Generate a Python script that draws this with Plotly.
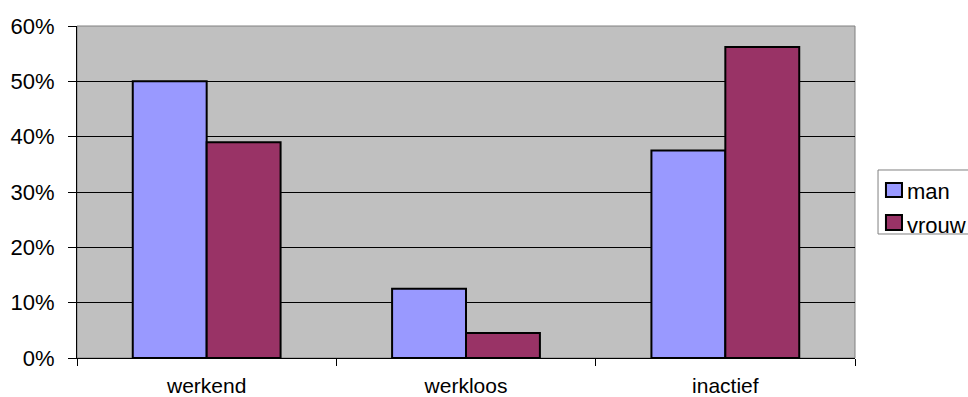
import plotly.graph_objects as go

categories = ["werkend", "werkloos", "inactief"]
man = [0.50, 0.125, 0.375]
vrouw = [0.39, 0.045, 0.562]
series_names = ["man", "vrouw"]
series_colors = ["#9999FF", "#993366"]
y_ticks = [0, 0.1, 0.2, 0.3, 0.4, 0.5, 0.6]

FONT = "Liberation Sans, Arial, sans-serif"

fig = go.Figure()
for name, vals, col in zip(series_names, [man, vrouw], series_colors):
    fig.add_trace(go.Bar(name=name, x=categories, y=vals, showlegend=False,
                         marker=dict(color=col, line=dict(color="#000000", width=2))))

# manual legend (Excel-style box partially cut at right edge)
lx0, lx1, ly0, ly1 = 1.0296, 1.2, 0.3735, 0.5663
shapes = [
    dict(type="rect", xref="paper", yref="paper", x0=0, x1=1, y0=0, y1=1,
         line=dict(color="#808080", width=1), layer="below"),
    dict(type="path", xref="paper", yref="paper",
         path=f"M {lx1},{ly1} L {lx0},{ly1} L {lx0},{ly0} L {lx1},{ly0}",
         line=dict(color="#808080", width=1)),
]
annotations = []
leg_y = [(0.4849, 0.5271, 0.5015), (0.3855, 0.4307, 0.3976)]
for (name, col), (y0, y1, yc) in zip(zip(series_names, series_colors), leg_y):
    shapes.append(dict(type="rect", xref="paper", yref="paper", x0=1.0398, x1=1.0604,
                       y0=y0, y1=y1, line=dict(color="#000000", width=2), fillcolor=col))
    annotations.append(dict(text=name, xref="paper", yref="paper", x=1.0645, y=yc,
                            xanchor="left", yanchor="middle", showarrow=False,
                            font=dict(family=FONT, size=22, color="#000000")))

fig.update_layout(
    width=968, height=397,
    margin=dict(l=77, r=113, t=26, b=39, autoexpand=False),
    paper_bgcolor="white",
    plot_bgcolor="#C0C0C0",
    barmode="group",
    bargap=0.43,
    bargroupgap=0,
    font=dict(family=FONT, size=21, color="#000000"),
    showlegend=False,
    xaxis=dict(
        showgrid=False, showline=True, linecolor="#000000", linewidth=1,
        ticks="outside", tickson="boundaries", ticklen=7, tickcolor="#000000",
        tickfont=dict(family=FONT, size=21, color="#000000"),
        ticklabelstandoff=9,
        zeroline=False,
    ),
    yaxis=dict(
        range=[0, 0.6], tickvals=y_ticks, tickformat=".0%",
        showgrid=True, gridcolor="#000000", gridwidth=1,
        showline=True, linecolor="#000000", linewidth=1,
        ticks="outside", ticklen=8, tickcolor="#000000",
        tickfont=dict(family=FONT, size=22, color="#000000"),
        ticklabelstandoff=9,
        zeroline=False,
    ),
    shapes=shapes,
    annotations=annotations,
)

fig.write_html("out.html", config={"displayModeBar": False, "staticPlot": True},
               post_script="document.body.style.margin='0';document.body.style.overflow='hidden';")
